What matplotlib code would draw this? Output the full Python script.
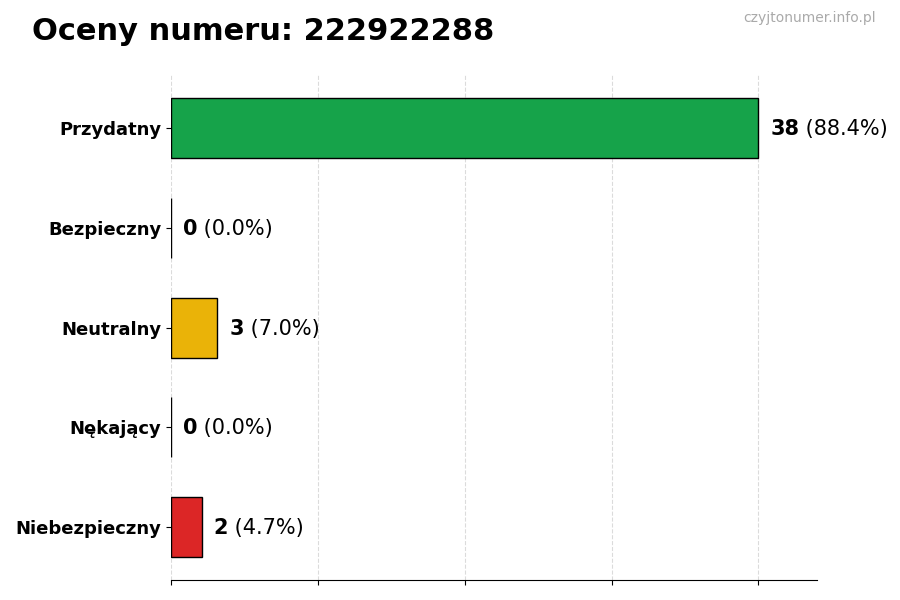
import matplotlib
matplotlib.use("Agg")
import matplotlib.pyplot as plt
import numpy as np

phone = "222922288"
categories = ["Przydatny", "Bezpieczny", "Neutralny", "Nękający", "Niebezpieczny"]
counts = [38, 0, 3, 0, 2]
colors = ["#16a34a", "#2563eb", "#eab308", "#f97316", "#dc2626"]

total = sum(counts)
y = np.arange(len(categories))

fig = plt.figure(figsize=(9, 6), dpi=100)
ax = fig.add_axes([0.19, 0.033, 0.718, 0.842])

ax.barh(y, counts, height=0.6, color=colors, edgecolor="black", linewidth=1, zorder=3)
ax.invert_yaxis()

vmax = max(counts)
ax.set_xlim(0, vmax * 1.1)
ax.set_xticks(np.linspace(0, vmax, 5))
ax.set_xticklabels([])
ax.set_yticks(y)
ax.set_yticklabels(categories, fontsize=13, fontweight="bold")
ax.grid(axis="x", ls="--", color="#cccccc", alpha=0.7, zorder=0)
for s in ("top", "right", "left"):
    ax.spines[s].set_visible(False)

# value labels: bold count followed by the share in normal weight
for yi, c in zip(y, counts):
    pct = 100 * c / total if total else 0
    t = ax.text(c + vmax * 0.02, yi + 0.01, str(c), fontsize=15, fontweight="bold",
                va="center", ha="left")
    ax.annotate(f" ({pct:.1f}%)", xy=(1, 0), xycoords=t, fontsize=15,
                va="bottom", ha="left")

fig.text(0.035, 0.948, f"Oceny numeru: {phone}", fontsize=22, fontweight="bold",
         va="center", ha="left")
fig.text(0.973, 0.97, "czyjtonumer.info.pl", fontsize=10, color="#aaaaaa",
         va="center", ha="right")

fig.savefig("out.png", dpi=100)
